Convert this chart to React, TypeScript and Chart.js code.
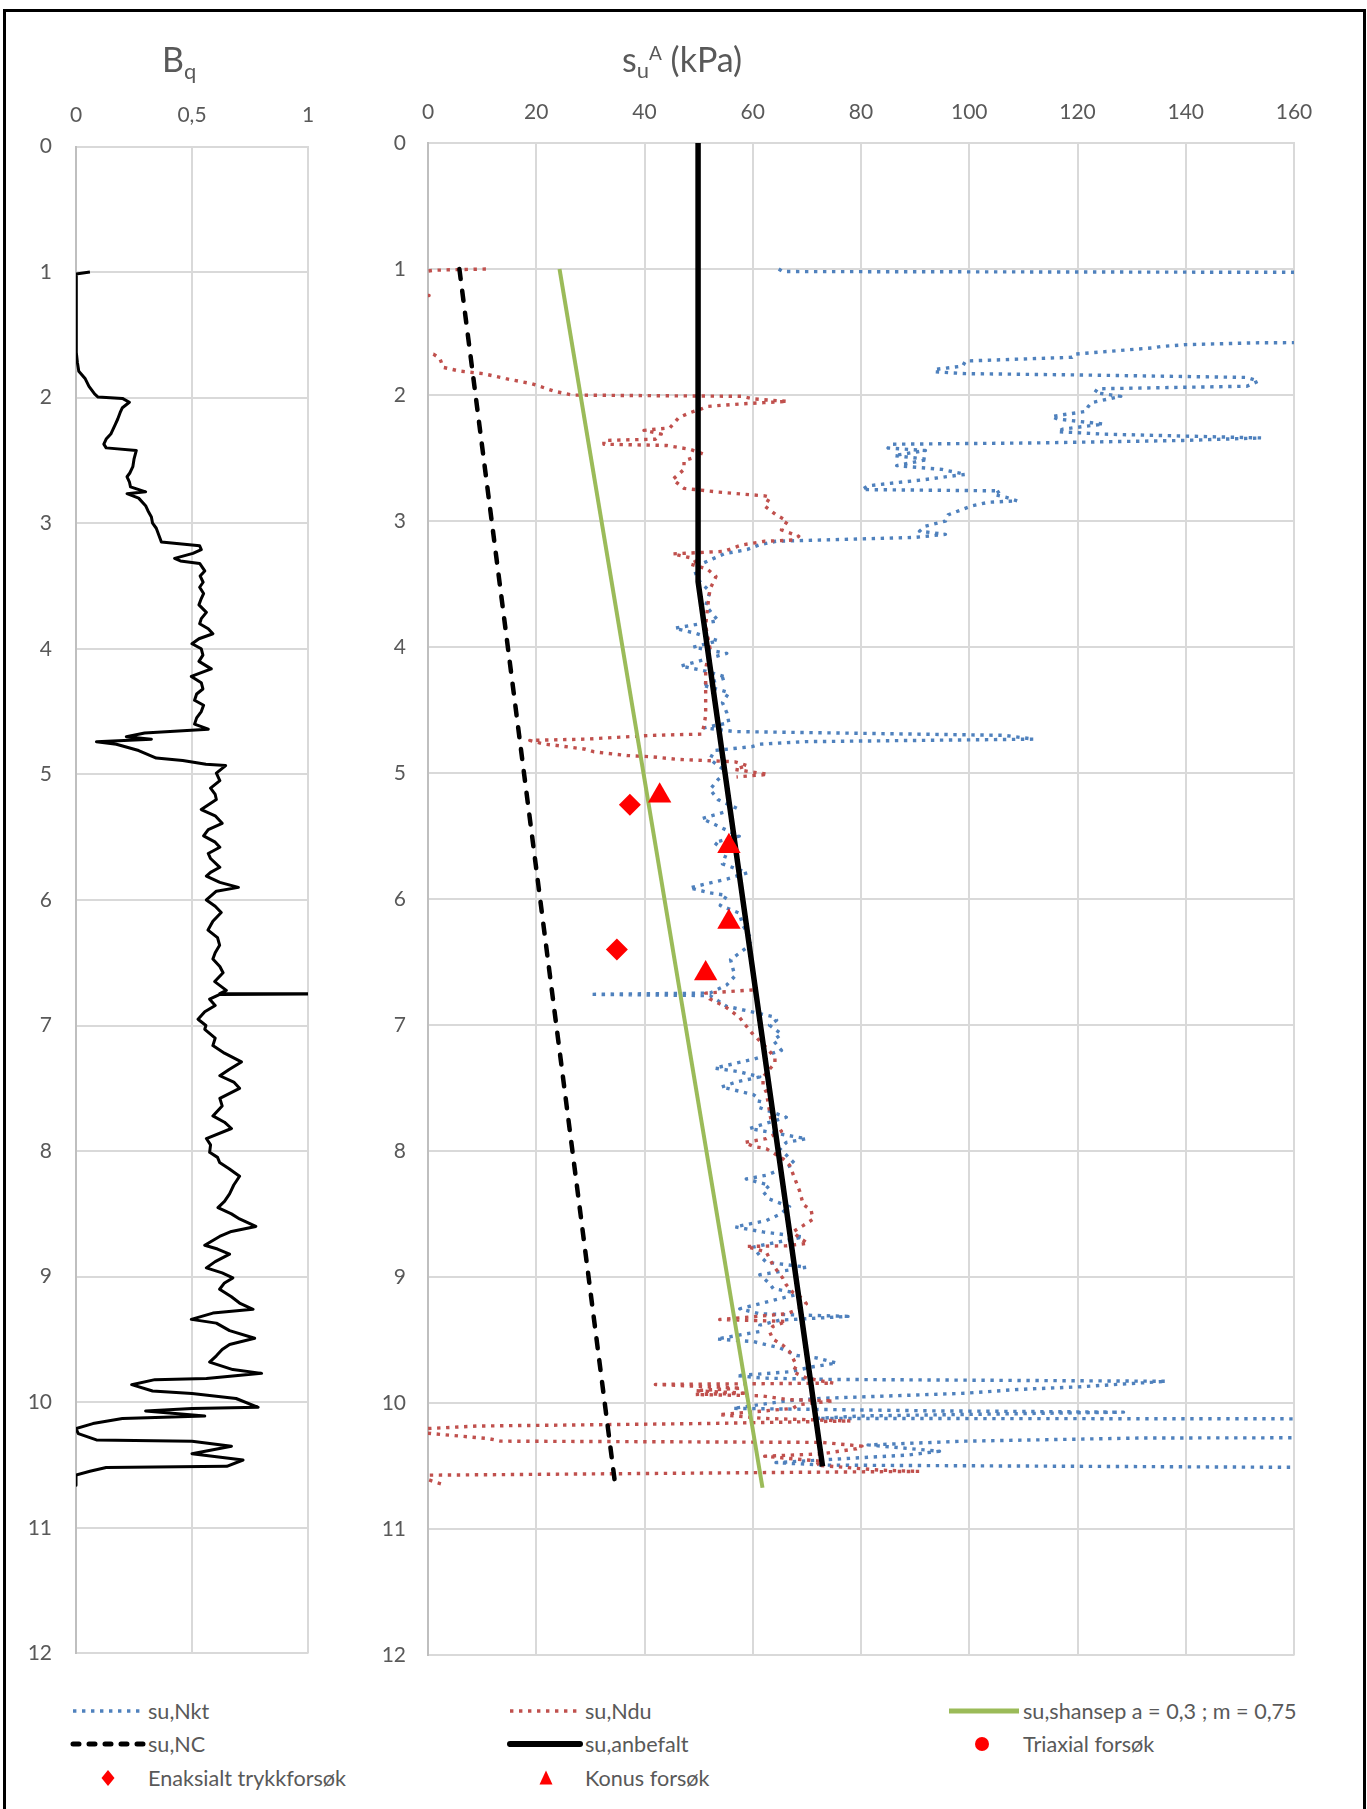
import React, { useEffect, useRef } from "react";
import { Chart, registerables } from "chart.js";

Chart.register(...registerables);

const FONT_FAMILY = "Lato, 'Open Sans', 'DejaVu Sans', sans-serif";
const TEXT_COLOR = "#595959";
const GRID_COLOR = "#d9d9d9";
const AXIS_COLOR = "#bfbfbf";

// Axis ranges
const depthRange = [0, 12];
const bqRange = [0, 1];
const bqStep = 0.5;
const suRange = [0, 160];
const suStep = 20;

// Bq profile: [depth (m), Bq]
const bqProfile: [number, number][] = [
  [1.0, 0.06], [1.015, 0], [1.2, 0.002], [1.4, 0], [1.64, 0.002], [1.72, 0.006], [1.79, 0.012],
  [1.85, 0.04], [1.91, 0.056], [1.97, 0.08], [1.995, 0.095], [2.006, 0.2], [2.037, 0.23], [2.08, 0.2],
  [2.12, 0.19], [2.17, 0.18], [2.21, 0.17], [2.25, 0.16], [2.29, 0.15], [2.33, 0.13], [2.37, 0.12],
  [2.4, 0.13], [2.42, 0.26], [2.49, 0.25], [2.55, 0.245], [2.6, 0.232], [2.63, 0.22], [2.67, 0.23],
  [2.71, 0.235], [2.75, 0.3], [2.765, 0.22], [2.8, 0.27], [2.86, 0.3], [2.9, 0.31], [2.95, 0.325],
  [3.0, 0.33], [3.04, 0.346], [3.1, 0.358], [3.15, 0.368], [3.18, 0.533], [3.21, 0.54], [3.24, 0.504],
  [3.28, 0.425], [3.3, 0.45], [3.32, 0.533], [3.38, 0.555], [3.42, 0.535], [3.47, 0.548], [3.51, 0.533],
  [3.56, 0.55], [3.6, 0.54], [3.65, 0.53], [3.71, 0.562], [3.76, 0.54], [3.8, 0.533], [3.84, 0.57],
  [3.88, 0.59], [3.92, 0.53], [3.96, 0.5], [4.0, 0.54], [4.05, 0.547], [4.1, 0.53], [4.16, 0.583],
  [4.22, 0.497], [4.27, 0.54], [4.32, 0.547], [4.36, 0.52], [4.41, 0.511], [4.45, 0.55], [4.5, 0.54],
  [4.55, 0.52], [4.6, 0.511], [4.64, 0.57], [4.67, 0.296], [4.7, 0.217], [4.72, 0.325], [4.74, 0.088],
  [4.76, 0.174], [4.81, 0.27], [4.87, 0.346], [4.89, 0.46], [4.92, 0.56], [4.93, 0.645], [4.99, 0.605],
  [5.05, 0.62], [5.11, 0.58], [5.16, 0.6], [5.2, 0.605], [5.28, 0.54], [5.33, 0.6], [5.39, 0.63],
  [5.44, 0.57], [5.49, 0.55], [5.54, 0.6], [5.58, 0.62], [5.63, 0.57], [5.67, 0.58], [5.74, 0.62],
  [5.78, 0.58], [5.81, 0.562], [5.86, 0.62], [5.9, 0.7], [5.93, 0.605], [6.0, 0.562], [6.05, 0.6],
  [6.1, 0.626], [6.17, 0.59], [6.24, 0.569], [6.3, 0.61], [6.36, 0.619], [6.42, 0.6], [6.47, 0.59],
  [6.53, 0.62], [6.58, 0.634], [6.65, 0.598], [6.72, 0.648], [6.745, 0.62], [6.748, 1.03], [6.752, 0.62],
  [6.79, 0.576], [6.84, 0.6], [6.89, 0.555], [6.95, 0.526], [7.0, 0.56], [7.03, 0.555], [7.1, 0.6],
  [7.16, 0.59], [7.22, 0.64], [7.29, 0.713], [7.35, 0.66], [7.4, 0.62], [7.45, 0.68], [7.5, 0.705],
  [7.58, 0.62], [7.64, 0.63], [7.72, 0.59], [7.77, 0.64], [7.82, 0.67], [7.9, 0.562], [7.95, 0.58],
  [8.01, 0.576], [8.05, 0.61], [8.09, 0.619], [8.14, 0.66], [8.2, 0.705], [8.27, 0.68], [8.34, 0.662],
  [8.4, 0.64], [8.45, 0.612], [8.5, 0.67], [8.54, 0.705], [8.6, 0.775], [8.64, 0.67], [8.68, 0.619],
  [8.75, 0.555], [8.78, 0.61], [8.82, 0.662], [8.88, 0.6], [8.93, 0.562], [8.97, 0.63], [9.01, 0.676],
  [9.05, 0.64], [9.1, 0.619], [9.16, 0.67], [9.21, 0.705], [9.26, 0.763], [9.29, 0.59], [9.34, 0.497],
  [9.37, 0.605], [9.43, 0.662], [9.49, 0.77], [9.54, 0.662], [9.58, 0.63], [9.63, 0.605], [9.68, 0.576],
  [9.74, 0.676], [9.77, 0.8], [9.81, 0.562], [9.82, 0.34], [9.86, 0.24], [9.91, 0.33], [9.93, 0.5],
  [9.97, 0.69], [10.04, 0.785], [10.05, 0.5], [10.07, 0.3], [10.11, 0.555], [10.13, 0.2], [10.17, 0.073],
  [10.21, 0], [10.25, 0.01], [10.3, 0.088], [10.31, 0.5], [10.35, 0.67], [10.41, 0.5], [10.46, 0.72],
  [10.51, 0.65], [10.52, 0.13], [10.55, 0.06], [10.58, 0], [10.66, 0],
];

// su,Nkt: [depth (m), kPa]
const suNkt: [number, number][] = [
  [1.0, 64.8], [1.02, 65.5], [1.03, 220], [1.575, 220], [1.585, 153.4], [1.6, 140], [1.615, 135.4],
  [1.625, 134], [1.675, 119.5], [1.7, 119], [1.73, 99.3], [1.77, 98.8], [1.795, 94], [1.815, 93.5],
  [1.83, 99.3], [1.84, 119.5], [1.86, 151.3], [1.89, 153.4], [1.93, 151.3], [1.95, 123.7], [1.98, 123.2],
  [2.01, 128], [2.06, 122.6], [2.09, 122], [2.13, 121.5], [2.17, 115.2], [2.19, 116.3], [2.23, 124.8],
  [2.27, 117.3], [2.29, 116.3], [2.31, 124.8], [2.34, 154], [2.36, 139.6], [2.38, 112], [2.39, 85.5],
  [2.42, 85], [2.44, 91.9], [2.48, 86.1], [2.51, 92.4], [2.56, 86.6], [2.59, 95], [2.63, 99.3],
  [2.64, 97.2], [2.67, 91.9], [2.72, 81.3], [2.75, 80.2], [2.76, 105.7], [2.79, 104.6], [2.81, 106.7],
  [2.84, 108.9], [2.85, 103.6], [2.88, 100.4], [2.95, 96.1], [3.0, 95.6], [3.04, 91.9], [3.08, 90.8],
  [3.105, 95.6], [3.13, 89.8], [3.16, 64.3], [3.19, 61.1], [3.225, 59], [3.26, 54.7], [3.3, 52.6],
  [3.34, 50.5], [3.38, 49.2], [3.46, 49.8], [3.56, 52.1], [3.67, 51.3], [3.79, 53.6], [3.85, 45.6],
  [3.89, 49.4], [3.95, 53.6], [4.0, 49], [4.05, 55.2], [4.15, 46.7], [4.19, 51.3], [4.24, 55.2],
  [4.3, 50.6], [4.36, 55.6], [4.44, 54.4], [4.52, 55.2], [4.6, 55.6], [4.64, 51], [4.67, 56.7],
  [4.7, 106.5], [4.73, 111.9], [4.75, 69.7], [4.77, 61.3], [4.79, 59.8], [4.82, 52.9], [4.89, 52.1],
  [4.94, 53.6], [4.99, 55.2], [5.05, 53.6], [5.13, 52.1], [5.21, 53.6], [5.28, 57.1], [5.36, 50.6],
  [5.42, 53.6], [5.5, 57.5], [5.55, 52.9], [5.63, 55.2], [5.72, 54.4], [5.79, 59], [5.84, 55.2],
  [5.91, 48.3], [5.95, 52.1], [5.97, 55.2], [6.05, 54], [6.11, 57.5], [6.21, 58.2], [6.32, 59.8],
  [6.38, 59], [6.48, 55.9], [6.61, 56.7], [6.68, 55.2], [6.745, 52.1], [6.755, 29.9], [6.765, 52.1],
  [6.85, 55.2], [6.93, 63.6], [6.96, 64.4], [7.0, 63.1], [7.07, 65.3], [7.12, 63.8], [7.2, 65.3],
  [7.27, 60.1], [7.34, 53], [7.37, 57.6], [7.41, 61.3], [7.45, 57], [7.49, 54.2], [7.55, 60.1],
  [7.59, 61.3], [7.65, 61], [7.73, 66.2], [7.77, 63.1], [7.82, 59.4], [7.9, 69.9], [7.93, 66.2],
  [7.98, 65], [8.03, 66.2], [8.1, 67.8], [8.19, 62.5], [8.22, 58.8], [8.27, 63.1], [8.32, 61.9],
  [8.38, 63.1], [8.44, 66.8], [8.5, 65], [8.55, 62.5], [8.6, 56.7], [8.64, 61.9], [8.68, 69.3],
  [8.76, 60.1], [8.83, 61.3], [8.88, 62.5], [8.92, 69.9], [8.98, 61.3], [9.05, 63.1], [9.09, 63.8],
  [9.13, 68.7], [9.19, 63.1], [9.25, 57.6], [9.29, 61.3], [9.31, 77.6], [9.34, 65], [9.38, 61.3],
  [9.43, 61.3], [9.49, 53.3], [9.51, 60.1], [9.56, 65], [9.62, 68.1], [9.64, 71.8], [9.68, 75.5],
  [9.71, 71.1], [9.75, 66.8], [9.78, 57], [9.8, 61.9], [9.81, 74], [9.825, 136.4], [9.87, 120],
  [9.89, 108.9], [9.92, 99.3], [9.96, 72.8], [9.98, 66.4], [10.04, 56.3], [10.06, 94], [10.07, 128.5],
  [10.1, 80.2], [10.12, 71.7], [10.125, 220], [10.27, 220], [10.275, 132], [10.3, 99.3], [10.33, 81.3],
  [10.38, 94.5], [10.41, 88.7], [10.47, 64.3], [10.49, 72.8], [10.52, 220],
];

// su,Ndu: [depth (m), kPa]; null = no data
const suNdu: [number, number | null][] = [
  [1.0, 10.7], [1.005, 5], [1.01, 1], [1.08, -10], [1.2, -5], [1.21, 0.2], [1.22, -5], [1.66, -5],
  [1.675, 1], [1.71, 2.2], [1.78, 2.8], [1.81, 5.9], [1.83, 10.2], [1.87, 14.4], [1.91, 19.2],
  [1.97, 23.4], [2.0, 26.6], [2.01, 57.9], [2.03, 60], [2.05, 66.4], [2.06, 62], [2.07, 57.9],
  [2.09, 51.6], [2.11, 50.5], [2.14, 48.4], [2.18, 46.3], [2.26, 44.7], [2.28, 39.9], [2.31, 43.1],
  [2.35, 42], [2.36, 32.5], [2.39, 32.5], [2.4, 44.1], [2.43, 48.4], [2.47, 51], [2.52, 47.3],
  [2.59, 47.3], [2.67, 45.2], [2.74, 47.3], [2.77, 53.7], [2.8, 62.2], [2.81, 63.2], [2.88, 62.2],
  [2.95, 64.3], [3.0, 66.4], [3.07, 65.3], [3.12, 68.5], [3.15, 67.4], [3.16, 62.2], [3.19, 57.9],
  [3.24, 54.7], [3.26, 45.2], [3.29, 48.4], [3.32, 49.4], [3.34, 48.4], [3.38, 51.6], [3.44, 53.2],
  [3.54, 52.1], [3.67, 51.7], [3.83, 51.3], [4.01, 52.1], [4.17, 51.3], [4.36, 51.3], [4.54, 51.3],
  [4.62, 51], [4.69, 50.6], [4.7, 41.4], [4.73, 29.1], [4.74, 18.8], [4.77, 21.5], [4.78, 23.8],
  [4.81, 29.1], [4.83, 30.6], [4.86, 36.8], [4.87, 41.4], [4.89, 46], [4.9, 51.3], [4.91, 56.7],
  [4.94, 59], [4.97, 56.7], [4.99, 59.8], [5.01, 62.8], [5.03, 57], [5.5, null],
  [6.72, 60], [6.745, 51.3], [6.79, 52], [6.85, 54.8], [6.9, 56.4], [6.94, 57.6], [6.99, 58.5],
  [7.06, 59.8], [7.19, 62.8], [7.26, 64.1], [7.3, 64.1], [7.41, 61.9], [7.48, 61.9], [7.53, 62.5],
  [7.76, 63.4], [7.84, 65.3], [7.9, 62.5], [7.93, 58.5], [7.96, 60], [7.98, 62.5], [8.01, 63.7],
  [8.06, 65.6], [8.11, 66.8], [8.22, 67.8], [8.32, 68.7], [8.42, 69.3], [8.47, 70.8], [8.54, 71.1],
  [8.59, 69.3], [8.64, 67.4], [8.69, 68.7], [8.73, 70.2], [8.75, 66.2], [8.755, 58.8], [8.8, 62.5],
  [8.85, 63.1], [8.9, 63.7], [8.96, 64.7], [9.01, 65.6], [9.06, 66.2], [9.12, 67.4], [9.17, 69.3],
  [9.21, 69.9], [9.25, 68.7], [9.29, 66.2], [9.335, 53.9], [9.35, 66.2], [9.39, 63.7], [9.43, 63.1],
  [9.49, 63.7], [9.54, 65.6], [9.59, 66.8], [9.64, 67.4], [9.7, 68.1], [9.75, 67.4], [9.8, 70],
  [9.84, 74.9], [9.85, 42], [9.88, 57.9], [9.9, 49.4], [9.92, 59], [9.93, 49.4], [9.94, 61.6],
  [9.97, 66.4], [9.98, 74.9], [10.01, 68.5], [10.04, 67.4], [10.06, 62.2], [10.09, 53.7], [10.12, 62.2],
  [10.14, 78.1], [10.16, 51.6], [10.18, 9.1], [10.2, 0], [10.22, -3], [10.24, 0.6], [10.28, 11.2],
  [10.3, 13.4], [10.31, 72.8], [10.34, 80.2], [10.36, 79.2], [10.4, 72.8], [10.42, 62.2], [10.44, 67.4],
  [10.46, 72.8], [10.49, 71.7], [10.53, 83.4], [10.54, 90.8], [10.57, 0.2], [10.59, -1], [10.63, 1.7],
  [10.65, 3.3],
];

// Straight design lines: [depth (m), kPa]
const suShansep: [number, number][] = [[1.0, 24.3], [10.67, 61.8]];
const suNC: [number, number][] = [[1.0, 5.8], [10.65, 34.6]];
const suAnbefalt: [number, number][] = [[0, 49.9], [3.48, 49.9], [10.5, 72.9]];

// Laboratory tests: [depth (m), kPa]
const triaxial: [number, number][] = [];
const enaksialt: [number, number][] = [[5.25, 37.3], [6.4, 34.9]];
const konus: [number, number][] = [[5.18, 42.8], [5.58, 55.6], [6.18, 55.6], [6.59, 51.3]];

const toPoints = (rows: [number, number | null][]) => rows.map(([d, v]) => ({ x: v, y: d }));
const fmt = (v: number | string) => String(v).replace(".", ",");

const tickFont = { family: FONT_FAMILY, size: 21 };

function depthAxis(width: number, padding: number) {
  return {
    type: "linear" as const,
    reverse: true,
    min: depthRange[0],
    max: depthRange[1],
    ticks: { stepSize: 1, padding, color: TEXT_COLOR, font: tickFont, autoSkip: false, callback: (v: any) => fmt(v) },
    grid: { color: GRID_COLOR, lineWidth: 2, drawTicks: false },
    border: { color: AXIS_COLOR, width: 2 },
    afterFit: (s: any) => { s.width = width; },
  };
}

function valueAxis(min: number, max: number, step: number, height: number, padding: number) {
  return {
    type: "linear" as const,
    position: "top" as const,
    min,
    max,
    ticks: { stepSize: step, padding, color: TEXT_COLOR, font: tickFont, autoSkip: false, callback: (v: any) => fmt(v) },
    grid: { color: GRID_COLOR, lineWidth: 2, drawTicks: false },
    border: { color: GRID_COLOR, width: 2 },
    afterFit: (s: any) => { s.height = height; },
  };
}

const baseOptions = {
  animation: false as const,
  responsive: false,
  maintainAspectRatio: false,
  devicePixelRatio: 1,
  plugins: { legend: { display: false }, tooltip: { enabled: false }, title: { display: false } },
  events: [] as any[],
};

function LineSample({ x, y, color, width, dash, cap }: any) {
  return (
    <svg style={{ position: "absolute", left: x, top: y - 8 }} width={76} height={16}>
      <line x1={3} y1={8} x2={73} y2={8} stroke={color} strokeWidth={width}
        strokeDasharray={dash} strokeLinecap={cap || "butt"} />
    </svg>
  );
}

function MarkerSample({ x, y, shape }: any) {
  let el: any = null;
  if (shape === "circle") el = <circle cx={10} cy={10} r={7} fill="#ff0000" />;
  if (shape === "diamond") el = <polygon points="10,2 16.5,10 10,18 3.5,10" fill="#ff0000" />;
  if (shape === "triangle") el = <polygon points="10,2.5 16.5,16.5 3.5,16.5" fill="#ff0000" />;
  return (
    <svg style={{ position: "absolute", left: x - 10, top: y - 10 }} width={20} height={20}>{el}</svg>
  );
}

function LegendText({ x, y, text }: any) {
  return (
    <div style={{ position: "absolute", left: x, top: y - 12, fontSize: 21.6, lineHeight: "24px",
      color: TEXT_COLOR, whiteSpace: "nowrap" }}>{text}</div>
  );
}

export default function App() {
  const bqRef = useRef<HTMLCanvasElement>(null);
  const suRef = useRef<HTMLCanvasElement>(null);

  useEffect(() => {
    const charts: Chart[] = [];
    if (bqRef.current) {
      charts.push(new Chart(bqRef.current, {
        type: "scatter",
        data: {
          datasets: [{
            label: "Bq",
            data: toPoints(bqProfile),
            showLine: true,
            borderColor: "#000000",
            borderWidth: 3,
            borderJoinStyle: "round",
            pointRadius: 0,
            pointHoverRadius: 0,
            fill: false,
          }],
        },
        options: {
          ...baseOptions,
          layout: { padding: { left: 0, top: 0, right: 32, bottom: 35.7 } },
          scales: {
            x: valueAxis(bqRange[0], bqRange[1], bqStep, 146.5, 19),
            y: depthAxis(76, 24),
          },
        } as any,
      }));
    }
    if (suRef.current) {
      const line = (label: string, rows: any, color: string, width: number, order: number, dash?: number[], cap?: string) => ({
        label, data: toPoints(rows), showLine: true, borderColor: color, backgroundColor: color,
        borderWidth: width, borderDash: dash || [], borderCapStyle: cap || "butt", borderJoinStyle: "round",
        pointRadius: 0, pointHoverRadius: 0, fill: false, order, spanGaps: false,
      });
      const marks = (label: string, rows: any, style: string, radius: number, order: number) => ({
        label, data: toPoints(rows), showLine: false, pointStyle: style, pointRadius: radius,
        pointHoverRadius: radius, backgroundColor: "#ff0000", borderColor: "#ff0000", borderWidth: 0, order,
      });
      charts.push(new Chart(suRef.current, {
        type: "scatter",
        data: {
          datasets: [
            line("su,Nkt", suNkt, "#4f81bd", 3.4, 8, [3.4, 5.6]),
            line("su,Ndu", suNdu, "#c0504d", 3.4, 7, [3.4, 5.6]),
            line("su,shansep a = 0,3 ; m = 0,75", suShansep, "#9bbb59", 4, 6),
            line("su,NC", suNC, "#000000", 4.5, 5, [10, 12], "round"),
            line("su,anbefalt", suAnbefalt, "#000000", 5.5, 4),
            marks("Triaxial forsøk", triaxial, "circle", 9, 3),
            marks("Enaksialt trykkforsøk", enaksialt, "rectRot", 11, 2),
            marks("Konus forsøk", konus, "triangle", 13.5, 1),
          ] as any,
        },
        options: {
          ...baseOptions,
          layout: { padding: { left: 0, top: 0, right: 73, bottom: 33.4 } },
          scales: {
            x: valueAxis(suRange[0], suRange[1], suStep, 143, 18),
            y: depthAxis(88, 22),
          },
        } as any,
      }));
    }
    return () => charts.forEach((c) => c.destroy());
  }, []);

  return (
    <div style={{ position: "absolute", left: 0, top: 0, width: 1367, height: 1809, overflow: "hidden",
      background: "#ffffff", fontFamily: FONT_FAMILY }}>
      <div style={{ position: "absolute", left: 3, top: 9, width: 1363, height: 1900, boxSizing: "border-box",
        border: "3px solid #000000" }} />
      <canvas ref={bqRef} width={340} height={1690}
        style={{ position: "absolute", left: 0, top: 0, width: 340, height: 1690 }} />
      <canvas ref={suRef} width={1027} height={1690}
        style={{ position: "absolute", left: 340, top: 0, width: 1027, height: 1690 }} />

      <div style={{ position: "absolute", left: 162, top: 42, fontSize: 34, lineHeight: "34px",
        color: TEXT_COLOR, whiteSpace: "nowrap" }}>
        B<span style={{ fontSize: 22, position: "relative", top: 7 }}>q</span>
      </div>
      <div style={{ position: "absolute", left: 622, top: 42, fontSize: 34, lineHeight: "34px",
        color: TEXT_COLOR, whiteSpace: "nowrap" }}>
        s<span style={{ fontSize: 22, position: "relative", top: 6 }}>u</span>
        <span style={{ fontSize: 19, position: "relative", top: -12 }}>A</span> (kPa)
      </div>

      <LineSample x={70} y={1711} color="#4f81bd" width={3.4} dash="3.4 5.6" />
      <LegendText x={148} y={1711} text="su,Nkt" />
      <LineSample x={507} y={1711} color="#c0504d" width={3.4} dash="3.4 5.6" />
      <LegendText x={585} y={1711} text="su,Ndu" />
      <LineSample x={946} y={1711} color="#9bbb59" width={5} />
      <LegendText x={1023} y={1711} text="su,shansep a = 0,3 ; m = 0,75" />

      <LineSample x={70} y={1744} color="#000000" width={5} dash="6 10" cap="round" />
      <LegendText x={148} y={1744} text="su,NC" />
      <LineSample x={507} y={1744} color="#000000" width={6} cap="round" />
      <LegendText x={585} y={1744} text="su,anbefalt" />
      <MarkerSample x={982} y={1744} shape="circle" />
      <LegendText x={1023} y={1744} text="Triaxial forsøk" />

      <MarkerSample x={108} y={1778} shape="diamond" />
      <LegendText x={148} y={1778} text="Enaksialt trykkforsøk" />
      <MarkerSample x={546} y={1778} shape="triangle" />
      <LegendText x={585} y={1778} text="Konus forsøk" />
    </div>
  );
}
